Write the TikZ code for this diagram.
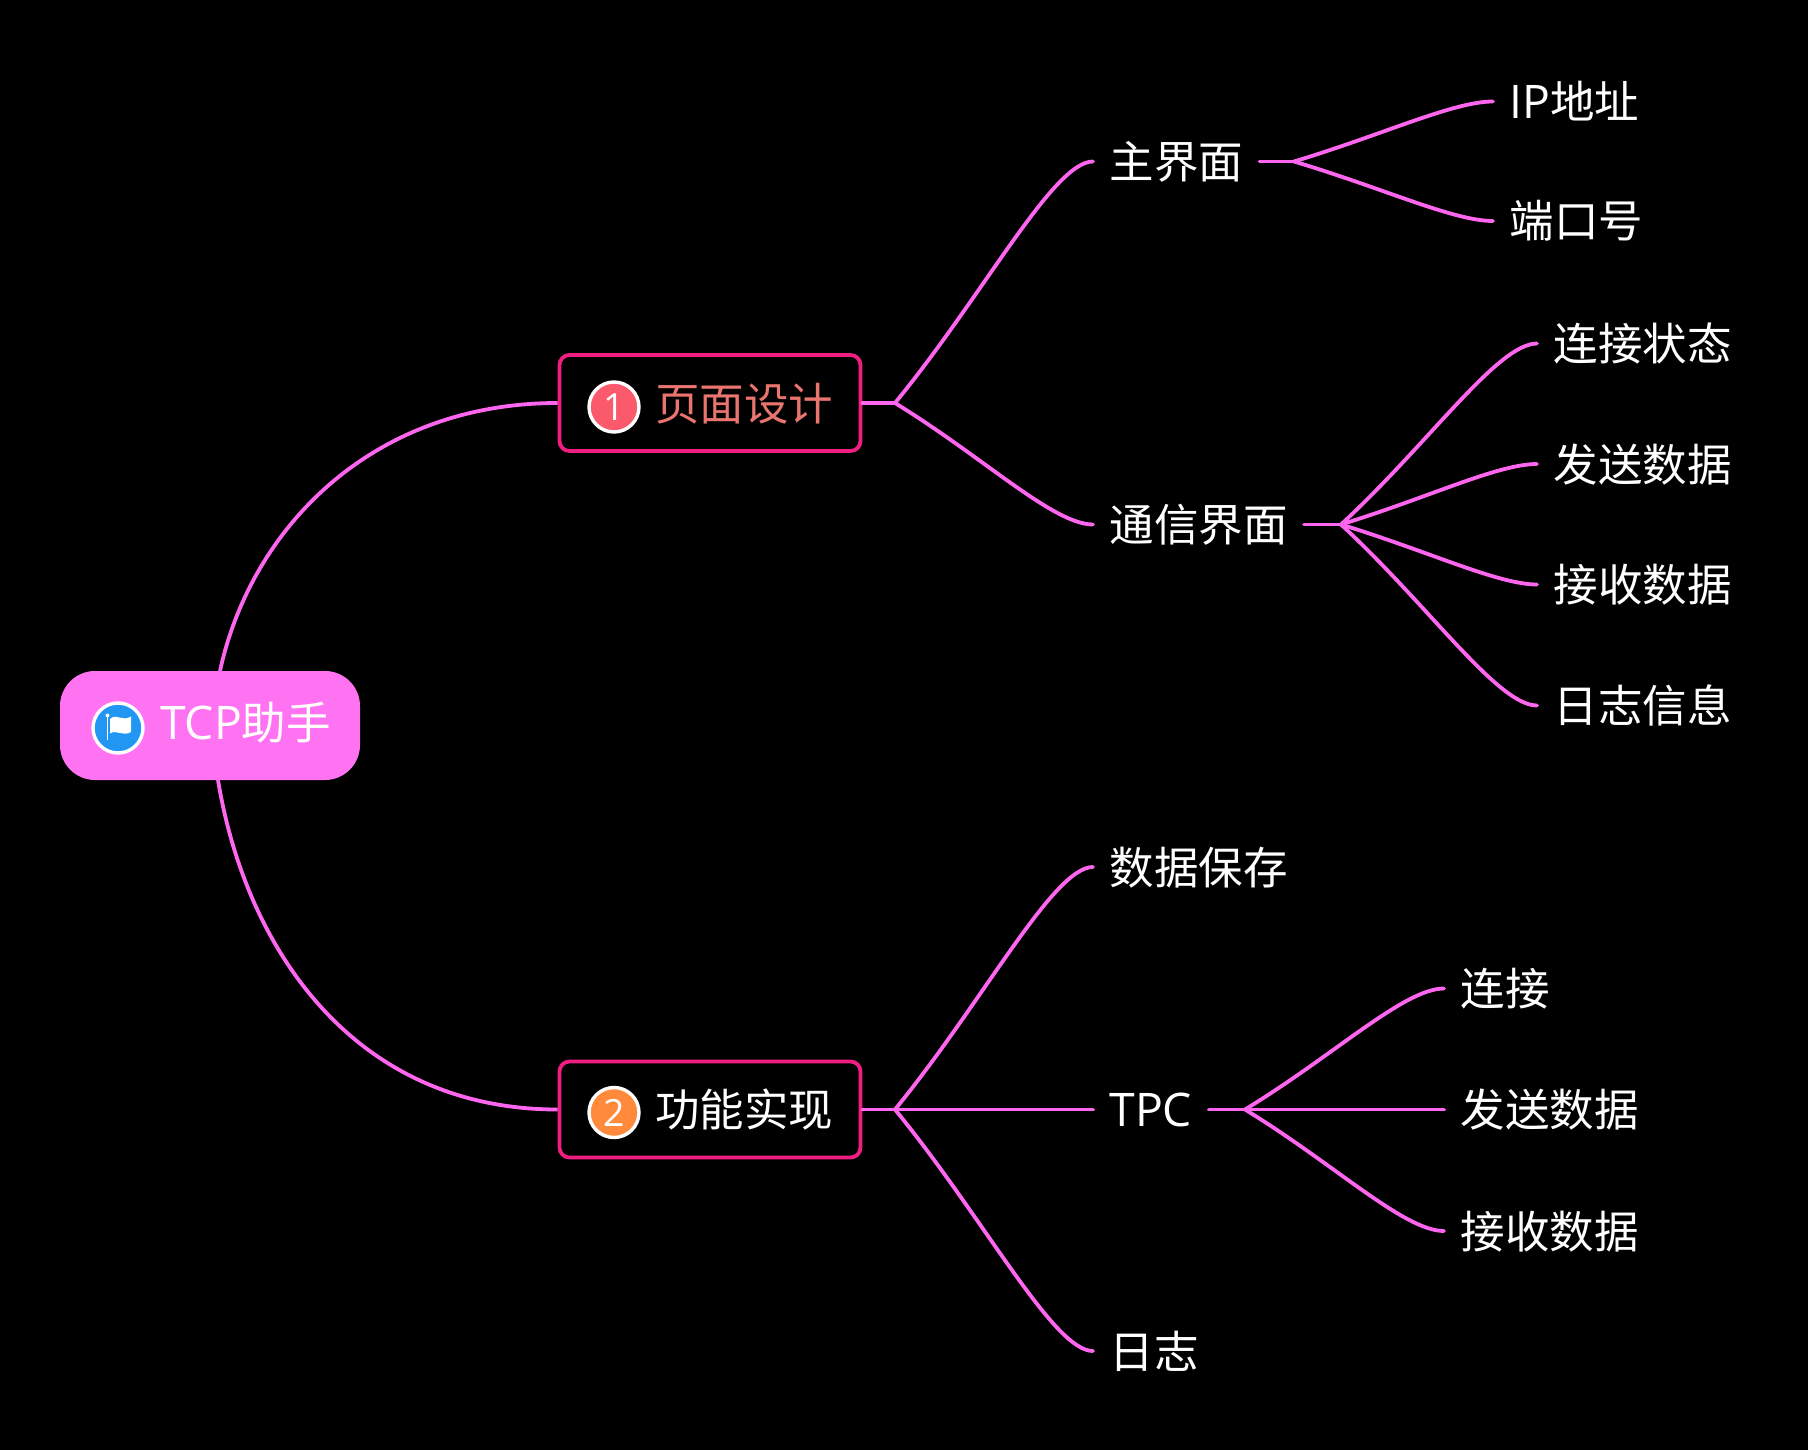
\documentclass[tikz,border=0pt]{standalone}
\usepackage{fontspec}
\setmainfont{Noto Sans CJK SC}
\newfontfamily\latinf[Scale=1.04]{Open Sans}
\usetikzlibrary{calc}
\definecolor{linkc}{HTML}{FF66F0}
\definecolor{rootc}{HTML}{FF73F3}
\definecolor{boxc}{HTML}{F01E80}
\definecolor{salmon}{HTML}{EA756F}
\definecolor{redc}{HTML}{FB5A6C}
\definecolor{orangec}{HTML}{FF8A3C}
\definecolor{bluec}{HTML}{2196F3}
\tikzset{
  x=1pt,y=-1pt,
  link/.style={draw=linkc,line width=3.8pt,line cap=round},
  label/.style={anchor=west,text=white,font=\fontsize{44.5}{45}\selectfont,inner xsep=16.5pt,inner ysep=0pt,text height=40pt,text depth=6pt,outer sep=0pt},
  root/.style={rounded corners=35pt,fill=rootc,minimum width=300pt,minimum height=108pt,inner sep=0pt,outer sep=0pt},
  topic/.style={rounded corners=10pt,draw=boxc,line width=3.8pt,fill=black,minimum width=301pt,minimum height=96pt,inner sep=0pt,outer sep=1.9pt},
  badge/.style={circle,draw=white,line width=3.4pt,minimum size=50pt,inner sep=0pt,text=white,font=\latinf\fontsize{36}{36}\selectfont},
  big/.style={anchor=west,inner sep=0pt,font=\fontsize{44.5}{45}\selectfont,text height=40pt,text depth=6pt}
}
\newcommand{\curvelink}[2]{\draw[link] (#1) .. controls ($(#1)!0.45!(#2)$) and ($(#2)!0.2!(#1|-#2)$) .. (#2);}
\begin{document}
\begin{tikzpicture}
\useasboundingbox (0,0) rectangle (1808,1450);
\fill[black] (0,0) rectangle (1808,1450);
% coordinates
\coordinate (j1) at (895,403);
\coordinate (j2) at (895,1109.5);
\coordinate (jA) at (1294,161.5);
\coordinate (jB) at (1341,524.5);
\coordinate (jC) at (1245,1109.5);
\coordinate (rt) at (220,671);
\coordinate (rb) at (218,780);
% shapes
\node[root,minimum height=109pt] (root) at (210,725.5) {};
\node[topic] (t1) at (710,403) {};
\node[topic] (t2) at (710,1109.5) {};
% labels
\node[label] (a) at (1093,161.5) {主界面};
\node[label] (b) at (1093,524.5) {通信界面};
\node[label] (c) at (1093,867) {数据保存};
\node[label,text width=83pt] (d) at (1093,1109.5) {\latinf TPC};
\node[label] (e) at (1093,1351) {日志};
\node[label] (a1) at (1493,101.5) {{\latinf IP}地址};
\node[label] (a2) at (1493,221) {端口号};
\node[label] (b1) at (1537,343.5) {连接状态};
\node[label] (b2) at (1537,464) {发送数据};
\node[label] (b3) at (1537,584.5) {接收数据};
\node[label] (b4) at (1537,705.5) {日志信息};
\node[label] (d1) at (1444,988.5) {连接};
\node[label] (d2) at (1444,1109.5) {发送数据};
\node[label] (d3) at (1444,1231) {接收数据};
% root links
\draw[link,line cap=butt] (rt) .. controls (251,528) and (372,403) .. (t1.west);
\draw[link,line cap=butt] (rb) .. controls (246,950) and (355,1109.5) .. (t2.west);
\draw[link] (t1.east) -- (j1);
\draw[link] (t2.east) -- (j2);
\curvelink{j1}{a.west}
\curvelink{j1}{b.west}
\curvelink{j2}{c.west}
\draw[link] (j2) -- (d.west);
\curvelink{j2}{e.west}
\draw[link] (a.east) -- (jA);
\draw[link] (b.east) -- (jB);
\draw[link] (d.east) -- (jC);
\curvelink{jA}{a1.west}
\curvelink{jA}{a2.west}
\curvelink{jB}{b1.west}
\curvelink{jB}{b2.west}
\curvelink{jB}{b3.west}
\curvelink{jB}{b4.west}
\curvelink{jC}{d1.west}
\draw[link] (jC) -- (d2.west);
\curvelink{jC}{d3.west}
% root content
\node[badge,fill=bluec] (flag) at (118,728) {};
\fill[white] (107.5,715.5) circle (2);
\draw[white,line width=1.9pt] (107.5,716) -- (107.5,740);
\fill[white] (110,719) .. controls (116,713) and (123,722) .. (131,716.5) -- (131,732) .. controls (123,737) and (116,729) .. (110,733.5) -- cycle;
\node[big,text=white] (roott) at (160,722.5) {{\latinf TCP}助手};
% topic content
\node[badge,fill=redc] (n1) at (614,407) {1};
\node[big,text=salmon] (t1t) at (655,403) {页面设计};
\node[badge,fill=orangec] (n2) at (614,1112.5) {2};
\node[big,text=white] (t2t) at (655,1109.5) {功能实现};
\end{tikzpicture}
\end{document}
